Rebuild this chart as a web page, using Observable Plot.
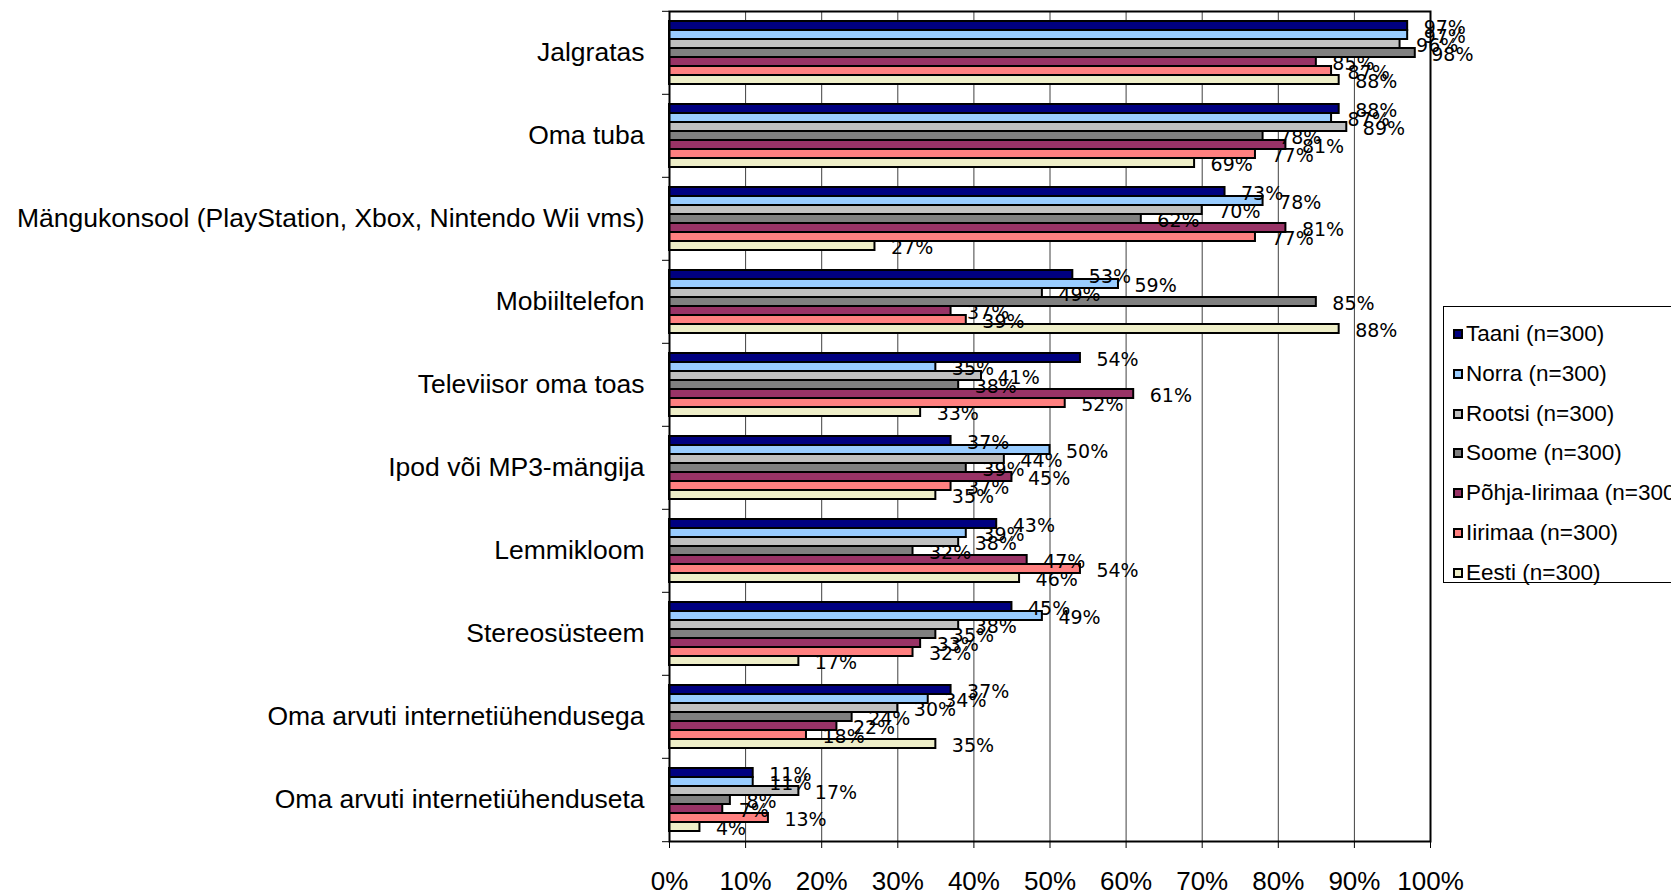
<!DOCTYPE html>
<html><head><meta charset="utf-8">
<script src="https://cdn.jsdelivr.net/npm/d3@7"></script>
<script src="https://cdn.jsdelivr.net/npm/@observablehq/plot@0.6"></script>
<style>
body{margin:0;background:#fff;}
#wrap{position:relative;width:1671px;height:895px;overflow:hidden;background:#fff;}
#legend{position:absolute;left:1443px;top:306px;width:260px;height:277px;border:1px solid #000;box-sizing:border-box;font-family:"Liberation Sans",Arial,sans-serif;font-size:22.5px;color:#000;background:#fff;}
.item{position:absolute;left:9px;height:30px;display:flex;align-items:center;white-space:nowrap;}
.sw{width:6px;height:6px;border:2px solid #000;margin-right:3px;}
</style></head><body><div id="wrap"><div id="chart"></div><div id="legend"></div></div>
<script>
const categories = ["Jalgratas","Oma tuba","Mängukonsool (PlayStation, Xbox, Nintendo Wii vms)","Mobiiltelefon","Televiisor oma toas","Ipod või MP3-mängija","Lemmikloom","Stereosüsteem","Oma arvuti internetiühendusega","Oma arvuti internetiühenduseta"];
const seriesNames = ["Taani (n=300)","Norra (n=300)","Rootsi (n=300)","Soome (n=300)","Põhja-Iirimaa (n=300)","Iirimaa (n=300)","Eesti (n=300)"];
const seriesColors = ["#000080","#99CCFF","#C0C0C0","#808080","#993366","#FF8080","#EEEEC8"];
const taani   = [97,88,73,53,54,37,43,45,37,11];
const norra   = [97,87,78,59,35,50,39,49,34,11];
const rootsi  = [96,89,70,49,41,44,38,38,30,17];
const soome   = [98,78,62,85,38,39,32,35,24,8];
const pohjaIirimaa = [85,81,81,37,61,45,47,33,22,7];
const iirimaa = [87,77,77,39,52,37,54,32,18,13];
const eesti   = [88,69,27,88,33,35,46,17,35,4];
const xTicks = [0,0.1,0.2,0.3,0.4,0.5,0.6,0.7,0.8,0.9,1];

const seriesValues = [taani, norra, rootsi, soome, pohjaIirimaa, iirimaa, eesti];
const data = [];
categories.forEach((c, ci) => seriesNames.forEach((s, si) => data.push({category: c, series: s, value: seriesValues[si][ci] / 100})));

const W = 1671, H = 895, mt = 9, mb = 52, ml = 669, mr = 241;
const halfStep = (H - mt - mb) / categories.length / 2;

const chart = Plot.plot({
  width: W, height: H,
  marginTop: mt, marginBottom: mb, marginLeft: ml, marginRight: mr,
  facet: {marginTop: 0, marginBottom: 0, marginLeft: 0, marginRight: 0},
  style: {fontFamily: "'Liberation Sans', Arial, sans-serif", fontSize: "26px", color: "#000", background: "#fff"},
  x: {domain: [0, 1]},
  y: {domain: seriesNames, axis: null, paddingInner: 0, paddingOuter: 0.79},
  fy: {domain: categories, padding: 0},
  color: {domain: seriesNames, range: seriesColors},
  marks: [
    Plot.gridX(xTicks, {stroke: "#000", strokeOpacity: 0.75, strokeWidth: 1}),
    Plot.barX(data, {fy: "category", y: "series", x: "value", fill: "series", stroke: "#000", strokeWidth: 2}),
    Plot.text(data, {fy: "category", y: "series", x: "value", text: d => Math.round(d.value * 100) + "%", textAnchor: "start", dx: 16, dy: 2, fontFamily: "'DejaVu Sans', Verdana, sans-serif", fontSize: 19, fill: "#000"}),
    Plot.axisX({ticks: xTicks, tickFormat: d3.format(".0%"), tickSize: 7, tickPadding: 23, label: null, strokeWidth: 1}),
    Plot.axisFy({anchor: "left", tickSize: 0, tickPadding: 25, label: null, fontSize: 26.5}),
    Plot.axisFy({anchor: "left", tickSize: 7, text: null, label: null, dy: -halfStep}),
    Plot.axisFy({anchor: "left", ticks: [categories[categories.length - 1]], tickSize: 7, text: null, label: null, dy: halfStep}),
    Plot.frame({facet: "super", stroke: "#000", strokeWidth: 2})
  ]
});
document.getElementById("chart").appendChild(chart);

const legend = document.getElementById("legend");
seriesNames.forEach((s, i) => {
  const it = document.createElement("div");
  it.className = "item";
  it.style.top = (12 + i * 39.8) + "px";
  const sw = document.createElement("span");
  sw.className = "sw";
  sw.style.background = seriesColors[i];
  const tx = document.createElement("span");
  tx.textContent = s;
  it.appendChild(sw); it.appendChild(tx);
  legend.appendChild(it);
});
</script></body></html>
